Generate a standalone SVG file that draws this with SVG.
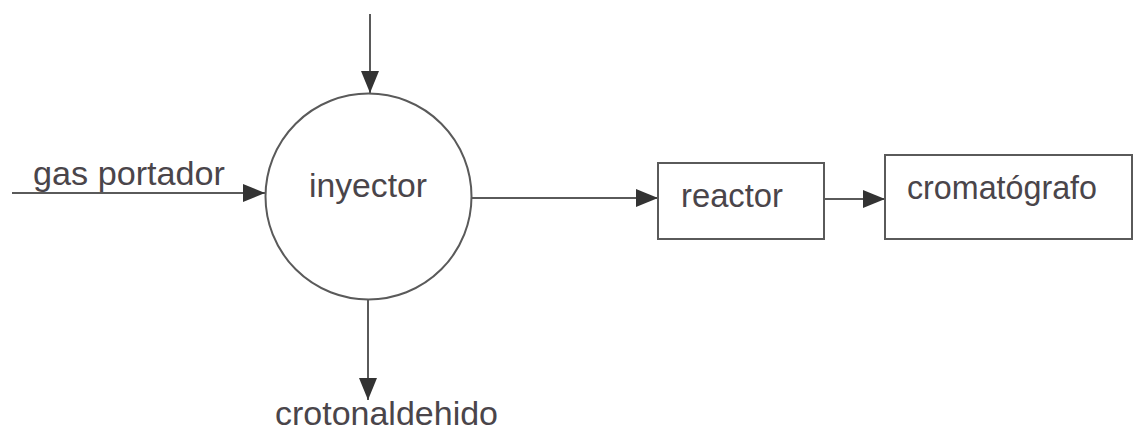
<svg xmlns="http://www.w3.org/2000/svg" width="1143" height="432" viewBox="0 0 1143 432">
<style>
.ln{stroke:#5a5a5a;stroke-width:2;fill:none}
.bx{stroke:#5a5a5a;stroke-width:2;fill:#fff}
.t{font-family:"Liberation Sans",Arial,sans-serif;fill:#4a454a;font-size:33px}
</style>
<defs>
<marker id="ah" markerUnits="userSpaceOnUse" markerWidth="24" markerHeight="20" refX="22" refY="9" orient="auto" viewBox="0 0 24 18">
<path d="M0,0 L22,9 L0,18 Z" fill="#333"/>
</marker>
</defs>
<rect width="1143" height="432" fill="#fff"/>
<g id="connectors">
<line class="ln" x1="370" y1="14" x2="370" y2="93" marker-end="url(#ah)"/>
<line class="ln" x1="12" y1="193" x2="265" y2="193" marker-end="url(#ah)"/>
<line class="ln" x1="472" y1="198" x2="658" y2="198" marker-end="url(#ah)"/>
<line class="ln" x1="824" y1="199" x2="885" y2="199" marker-end="url(#ah)"/>
<line class="ln" x1="368" y1="300" x2="368" y2="400" marker-end="url(#ah)"/>
</g>
<g id="gas-portador">
<text class="t" x="33" y="185" font-size="28" textLength="192" lengthAdjust="spacingAndGlyphs">gas portador</text>
</g>
<g id="inyector">
<circle class="bx" cx="368.5" cy="196.5" r="103"/>
<text class="t" x="309" y="197" textLength="118" lengthAdjust="spacingAndGlyphs">inyector</text>
</g>
<g id="reactor">
<rect class="bx" x="658" y="163" width="166" height="76"/>
<text class="t" x="681" y="207" textLength="102" lengthAdjust="spacingAndGlyphs">reactor</text>
</g>
<g id="cromatografo">
<rect class="bx" x="885" y="155" width="247" height="84"/>
<text class="t" x="907" y="199" textLength="190" lengthAdjust="spacingAndGlyphs">cromatógrafo</text>
</g>
<g id="crotonaldehido">
<text class="t" x="275" y="425" font-size="32" textLength="223" lengthAdjust="spacingAndGlyphs">crotonaldehido</text>
</g>
</svg>
